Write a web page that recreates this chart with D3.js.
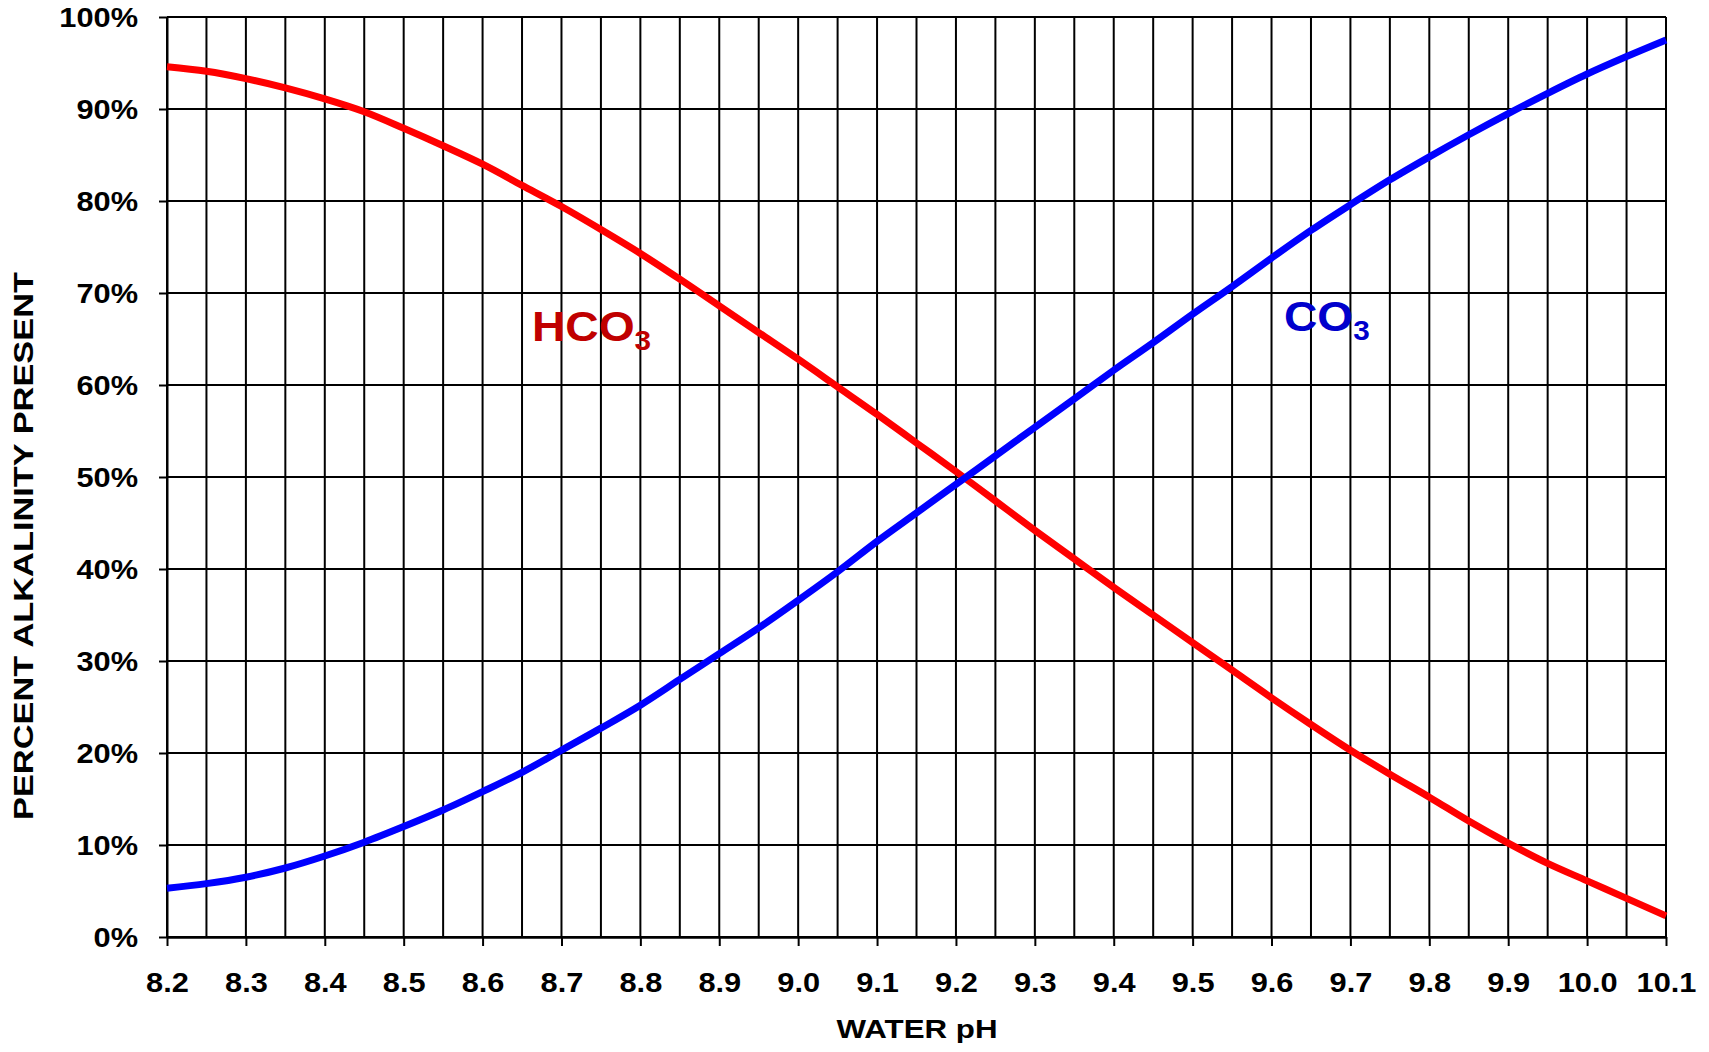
<!DOCTYPE html>
<html><head><meta charset="utf-8">
<script src="https://cdn.jsdelivr.net/npm/d3@7"></script>
<style>
body{margin:0;background:#fff}
text{font-family:"Liberation Sans",Arial,sans-serif;font-weight:bold}
</style></head><body>
<svg id="c" width="1709" height="1052"></svg>
<script>
// ---- data ----
const phValues = [8.2,8.25,8.3,8.35,8.4,8.45,8.5,8.55,8.6,8.65,8.7,8.75,8.8,8.85,8.9,8.95,9.0,9.05,9.1,9.15,9.2,9.25,9.3,9.35,9.4,9.45,9.5,9.55,9.6,9.65,9.7,9.75,9.8,9.85,9.9,9.95,10.0,10.05,10.1];
const hco3 = [94.6,94.1,93.3,92.3,91.1,89.7,87.9,86.0,84.0,81.7,79.4,76.9,74.3,71.5,68.6,65.7,62.8,59.8,56.8,53.7,50.6,47.4,44.2,41.1,38.0,35.0,32.0,29.0,26.0,23.1,20.3,17.7,15.2,12.6,10.2,8.0,6.1,4.2,2.3];
const co3 = [5.3,5.8,6.5,7.5,8.8,10.3,12.0,13.8,15.8,17.9,20.3,22.7,25.2,28.0,30.8,33.6,36.6,39.7,43.0,46.1,49.2,52.3,55.4,58.5,61.6,64.6,67.7,70.7,73.8,76.8,79.6,82.3,84.8,87.2,89.5,91.7,93.8,95.7,97.5];
const xTickValues = [8.2,8.3,8.4,8.5,8.6,8.7,8.8,8.9,9.0,9.1,9.2,9.3,9.4,9.5,9.6,9.7,9.8,9.9,10.0,10.1];
const xTickLabels = ["8.2","8.3","8.4","8.5","8.6","8.7","8.8","8.9","9.0","9.1","9.2","9.3","9.4","9.5","9.6","9.7","9.8","9.9","10.0","10.1"];
const yTickValues = [0,10,20,30,40,50,60,70,80,90,100];
const yTickLabels = ["0%","10%","20%","30%","40%","50%","60%","70%","80%","90%","100%"];
const seriesNames = ["HCO", "CO"];

// ---- layout ----
const L = 167, R = 1666, T = 17, B = 937;
const svg = d3.select("#c");
const x = d3.scaleLinear().domain([8.2, 10.1]).range([L, R]);
const y = d3.scaleLinear().domain([0, 100]).range([B, T]);

// vertical grid (every 0.05)
svg.append("g").selectAll("line").data(phValues).join("line")
  .attr("x1", d => x(d)).attr("x2", d => x(d))
  .attr("y1", T).attr("y2", B)
  .attr("stroke", "#000").attr("stroke-width", 2);

// horizontal grid
svg.append("g").selectAll("line").data(yTickValues).join("line")
  .attr("x1", L).attr("x2", R)
  .attr("y1", d => y(d)).attr("y2", d => y(d))
  .attr("stroke", "#000").attr("stroke-width", 2);

// x axis
const gx = svg.append("g").attr("transform", `translate(0,${B})`)
  .call(d3.axisBottom(x).tickValues(xTickValues).tickSize(9).tickSizeOuter(0)
    .tickFormat((d, i) => xTickLabels[i]));
gx.select(".domain").attr("stroke", "#000").attr("stroke-width", 2.5);
gx.selectAll(".tick line").attr("stroke", "#000").attr("stroke-width", 2);
gx.selectAll(".tick text")
  .attr("y", 0).attr("dy", null)
  .attr("transform", "translate(0,55) scale(1.14,1)")
  .attr("font-size", 27).attr("fill", "#000")
  .attr("font-family", '"Liberation Sans",Arial,sans-serif').attr("font-weight", "bold");

// y axis
const gy = svg.append("g").attr("transform", `translate(${L},0)`)
  .call(d3.axisLeft(y).tickValues(yTickValues).tickSize(8).tickSizeOuter(0)
    .tickFormat((d, i) => yTickLabels[i]));
gy.select(".domain").attr("stroke", "#000").attr("stroke-width", 2);
gy.selectAll(".tick line").attr("stroke", "#000").attr("stroke-width", 2);
gy.selectAll(".tick text")
  .attr("x", 0).attr("dy", null)
  .attr("transform", "translate(-29,9.5) scale(1.14,1)")
  .attr("font-size", 27).attr("fill", "#000")
  .attr("font-family", '"Liberation Sans",Arial,sans-serif').attr("font-weight", "bold");

// curves
const line = d3.line().x(d => x(d[0])).y(d => y(d[1])).curve(d3.curveMonotoneX);
svg.append("path").datum(phValues.map((p, i) => [p, hco3[i]]))
  .attr("d", line).attr("fill", "none").attr("stroke", "#FF0000").attr("stroke-width", 7);
svg.append("path").datum(phValues.map((p, i) => [p, co3[i]]))
  .attr("d", line).attr("fill", "none").attr("stroke", "#0000FF").attr("stroke-width", 7);

// series labels
function chemLabel(tx, ty, base, color) {
  const t = svg.append("text").attr("transform", `translate(${tx},${ty}) scale(1.1,1)`)
    .attr("font-size", 42).attr("fill", color);
  t.append("tspan").text(base);
  t.append("tspan").attr("font-size", 27).attr("dy", 9).text("3");
}
chemLabel(532, 341, seriesNames[0], "#C00000");
chemLabel(1284, 331, seriesNames[1], "#0000CC");

// axis titles
svg.append("text").attr("transform", "translate(33,546) rotate(-90)")
  .attr("text-anchor", "middle").attr("font-size", 28).attr("fill", "#000")
  .attr("textLength", 548).attr("lengthAdjust", "spacingAndGlyphs")
  .text("PERCENT ALKALINITY PRESENT");
svg.append("text").attr("x", 917).attr("y", 1038)
  .attr("text-anchor", "middle").attr("font-size", 26).attr("fill", "#000")
  .attr("textLength", 161).attr("lengthAdjust", "spacingAndGlyphs")
  .text("WATER pH");
</script></body></html>
